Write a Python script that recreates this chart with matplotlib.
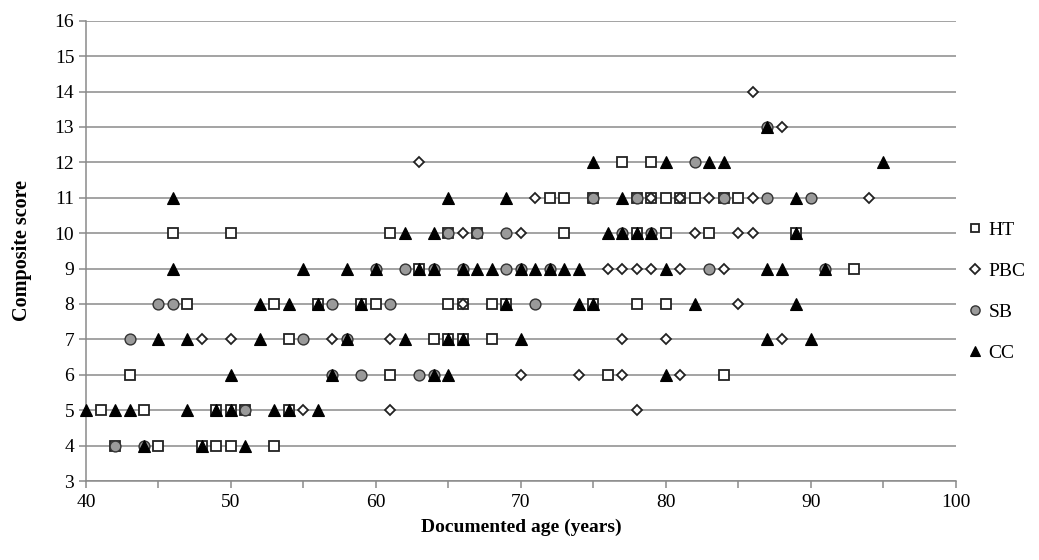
import matplotlib
matplotlib.use("Agg")
import matplotlib.pyplot as plt
from matplotlib.ticker import MultipleLocator

plt.rcParams['font.family'] = ['Liberation Serif', 'DejaVu Serif']

# composite score -> documented ages, one dict per group
ht_rows = {
    4: [42, 45, 48, 49, 50, 53],
    5: [41, 44, 49, 50, 51, 54],
    6: [43, 61, 76, 84],
    7: [54, 64, 65, 66, 68],
    8: [47, 53, 56, 59, 60, 65, 66, 68, 69, 75, 78, 80],
    9: [63, 93],
    10: [46, 50, 61, 65, 67, 73, 78, 80, 83, 89],
    11: [72, 73, 75, 78, 79, 80, 81, 82, 84, 85],
    12: [77, 79],
}
pbc_rows = {
    5: [55, 61, 78],
    6: [70, 74, 77, 81],
    7: [48, 50, 57, 61, 77, 80, 88],
    8: [66, 85],
    9: [76, 77, 78, 79, 81, 84],
    10: [66, 70, 82, 85, 86],
    11: [71, 75, 79, 81, 83, 86, 94],
    12: [63],
    13: [88],
    14: [86],
}
sb_rows = {
    4: [42, 44],
    5: [51],
    6: [57, 59, 63, 64],
    7: [43, 55, 58],
    8: [45, 46, 57, 61, 71],
    9: [60, 62, 64, 66, 69, 70, 72, 83, 91],
    10: [65, 67, 69, 77, 79],
    11: [75, 78, 84, 87, 90],
    12: [82],
    13: [87],
}
cc_rows = {
    4: [44, 48, 51],
    5: [40, 42, 43, 47, 49, 50, 53, 54, 56],
    6: [50, 57, 64, 65, 80],
    7: [45, 47, 52, 58, 62, 65, 66, 70, 87, 90],
    8: [52, 54, 56, 59, 69, 74, 75, 82, 89],
    9: [46, 55, 58, 60, 63, 64, 66, 67, 68, 70, 71, 72, 73, 74, 80, 87, 88, 91],
    10: [62, 64, 76, 77, 78, 79, 89],
    11: [46, 65, 69, 77, 89],
    12: [75, 80, 83, 84, 95],
    13: [87],
}


def flatten(rows):
    ages, scores = [], []
    for score, row in rows.items():
        for a in row:
            ages.append(a)
            scores.append(score)
    return ages, scores


fig = plt.figure(figsize=(10.39, 5.6), dpi=100)
ax = fig.add_axes([0.0828, 0.141, 0.837, 0.822])

grey = '#8a8a8a'
styles = [
    ('HT', ht_rows, dict(marker='s', ms=7.2, mfc='white', mec='#222222', mew=1.3)),
    ('PBC', pbc_rows, dict(marker='D', ms=5.5, mfc='white', mec='#222222', mew=1.3)),
    ('SB', sb_rows, dict(marker='o', ms=7.8, mfc='#9a9a9a', mec='#333333', mew=1.0)),
    ('CC', cc_rows, dict(marker='^', ms=8.5, mfc='black', mec='black', mew=0.8)),
]
for i, (name, rows, st) in enumerate(styles):
    x, y = flatten(rows)
    ax.plot(x, y, linestyle='none', label=name, zorder=3 + i, clip_on=False, **st)

ax.set_xlim(40, 100)
ax.set_ylim(3, 16)
ax.xaxis.set_major_locator(MultipleLocator(10))
ax.xaxis.set_minor_locator(MultipleLocator(5))
ax.yaxis.set_major_locator(MultipleLocator(1))
ax.grid(axis='y', color=grey, linewidth=1.1, zorder=1)
ax.set_axisbelow(True)

for s in ['top', 'right']:
    ax.spines[s].set_visible(False)
for s in ['left', 'bottom']:
    ax.spines[s].set_color(grey)
    ax.spines[s].set_linewidth(1.1)

ax.tick_params(axis='both', which='both', direction='out', color=grey,
               length=5, width=1.1, labelsize=14, labelcolor='black')
ax.tick_params(axis='x', which='major', pad=4)

ax.set_xlabel('Documented age (years)', fontsize=14, fontweight='bold', labelpad=6)
ax.set_ylabel('Composite score', fontsize=14.5, fontweight='bold', labelpad=16)

leg = ax.legend(loc='center left', bbox_to_anchor=(1.0, 0.412), frameon=False,
                fontsize=14, handlelength=0.6, handletextpad=0.4,
                labelspacing=1.2, markerscale=0.85, borderaxespad=0.3)

fig.savefig('out.png', dpi=100)
